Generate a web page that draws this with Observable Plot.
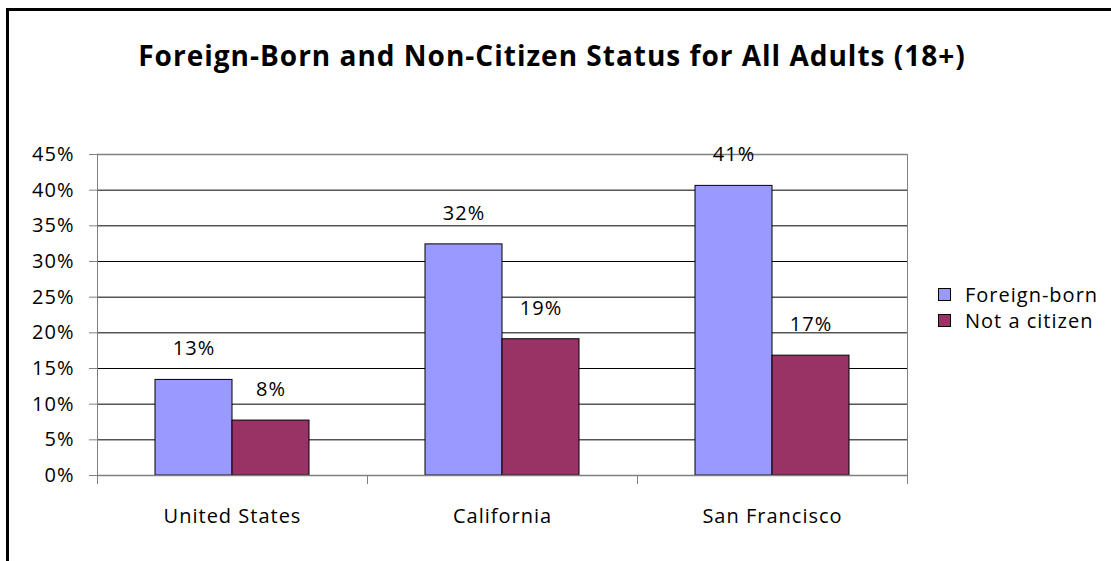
<!DOCTYPE html>
<html><head><meta charset="utf-8">
<script src="https://cdn.jsdelivr.net/npm/d3@7"></script>
<script src="https://cdn.jsdelivr.net/npm/@observablehq/plot@0.6"></script>
<style>
body{margin:0;background:#fff;font-family:"Open Sans",sans-serif;color:#000;}
#wrap{position:relative;width:1111px;height:561px;overflow:hidden;}
#border{position:absolute;left:6px;top:8px;width:1200px;height:600px;border-left:3px solid #000;border-top:3px solid #000;}
#title{position:absolute;left:0;width:1104px;top:36px;text-align:center;font-weight:bold;font-size:28px;letter-spacing:1px;line-height:38px;}
#legend{position:absolute;left:938px;top:281px;font-size:20px;letter-spacing:1px;}
.item{display:flex;align-items:center;height:26px;}
.sw{width:13px;height:13px;border:1px solid #000;margin-right:14px;box-sizing:border-box;}
#chart{position:absolute;left:0;top:0;}
</style></head><body>
<div id="wrap"><div id="border"></div><div id="chart"></div><div id="title"></div><div id="legend"></div></div>
<script>
const title = "Foreign-Born and Non-Citizen Status for All Adults (18+)";
const categories = ["United States", "California", "San Francisco"];
const series = ["Foreign-born", "Not a citizen"];
const foreignBorn = [13.4, 32.4, 40.6];
const notCitizen = [7.7, 19.1, 16.8];
const yTicks = [0, 5, 10, 15, 20, 25, 30, 35, 40, 45];
const colors = ["#9999FF", "#993366"];

const data = categories.flatMap((c, i) => [
  {category: c, series: series[0], value: foreignBorn[i]},
  {category: c, series: series[1], value: notCitizen[i]}
]);

document.getElementById("title").textContent = title;
const legend = document.getElementById("legend");
series.forEach((s, i) => {
  const it = document.createElement("div"); it.className = "item";
  const sw = document.createElement("div"); sw.className = "sw"; sw.style.background = colors[i];
  const t = document.createElement("span"); t.textContent = s;
  it.appendChild(sw); it.appendChild(t); legend.appendChild(it);
});

const chart = Plot.plot({
  width: 1111, height: 561,
  marginLeft: 97, marginRight: 204, marginTop: 154, marginBottom: 86,
  style: {fontFamily: "'Open Sans', sans-serif", fontSize: "20px", letterSpacing: "1px", color: "#000", background: "transparent"},
  fx: {domain: categories, padding: 0, label: null},
  x: {domain: series, paddingInner: 0, paddingOuter: 0.753, axis: null},
  y: {domain: [0, 45], axis: null},
  color: {domain: series, range: colors},
  marks: [
    Plot.ruleY(yTicks.filter(v => v > 0 && v < 45), {stroke: "#000", strokeWidth: 1}),
    Plot.ruleY([45], {stroke: "#808080", strokeWidth: 1.5}),
    Plot.frame({anchor: "left", facetAnchor: "left", stroke: "#808080", insetBottom: -8}),
    Plot.frame({anchor: "right", facetAnchor: "right", stroke: "#808080", insetBottom: -8}),
    Plot.frame({anchor: "left", stroke: "#808080", insetTop: 321, insetBottom: -8}),
    Plot.barY(data, {fx: "category", x: "series", y: "value", fill: "series", stroke: "#000", strokeWidth: 1}),
    Plot.ruleY([0], {stroke: "#808080", strokeWidth: 1.5}),
    Plot.text(data, {fx: "category", x: "series", y: "value", text: d => Math.round(d.value) + "%", dy: -31, fontSize: 20, fill: "#000"}),
    Plot.axisY({ticks: yTicks, tickFormat: d => d + "%", tickSize: 8, tickPadding: 15, stroke: "#808080", fill: "#000", label: null, fontSize: 20}),
    Plot.axisFx({anchor: "bottom", tickSize: 0, tickPadding: 33, label: null, fontSize: 20, fill: "#000"})
  ]
});
document.getElementById("chart").appendChild(chart);
</script>
</body></html>
